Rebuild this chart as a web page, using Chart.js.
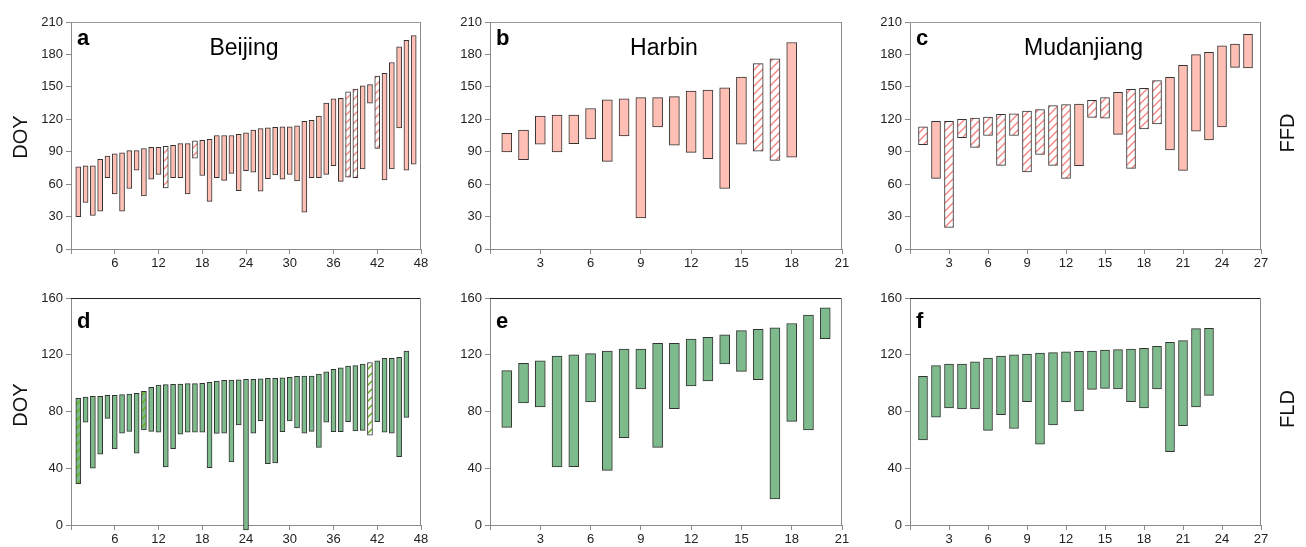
<!DOCTYPE html>
<html>
<head>
<meta charset="utf-8">
<script src="https://cdn.jsdelivr.net/npm/chart.js@4.4.0/dist/chart.umd.min.js"></script>
<style>
html, body { margin: 0; padding: 0; background: #fff; }
body { width: 1306px; height: 547px; position: relative; overflow: hidden; font-family: "Liberation Sans", Arial, sans-serif; }
canvas { position: absolute; }
.side { position: absolute; width: 70px; height: 24px; line-height: 24px; text-align: center; font-size: 20px; color: #111; transform: rotate(-90deg); white-space: nowrap; }
</style>
</head>
<body>
<canvas id="pa"></canvas>
<canvas id="pb"></canvas>
<canvas id="pc"></canvas>
<canvas id="pd"></canvas>
<canvas id="pe"></canvas>
<canvas id="pf"></canvas>
<div class="side" style="left:-15px; top:125px;">DOY</div>
<div class="side" style="left:-15px; top:393px;">DOY</div>
<div class="side" style="left:1252px; top:121px;">FFD</div>
<div class="side" style="left:1252px; top:397px;">FLD</div>
<script>
// FFD (top row) ranges, one bar per category 1..n
const beijingFfdHigh = [76, 77, 77, 83, 86, 88, 89, 91, 91, 93, 94, 94, 95, 96, 97.5, 97.5, 100, 100.5, 101.5, 105,
    105, 105, 106, 107.5, 110, 111.5, 112, 112.5, 113, 113, 114, 118, 119, 123, 135, 139, 139.5, 145.5, 148, 151,
    152, 160, 162.5, 172.5, 187, 193, 197.5];
const beijingFfdLow = [30, 43, 31, 35, 66, 51, 35, 56, 73, 49, 64.5, 69, 56.5, 66, 66, 51, 84, 68, 44, 66,
    63.5, 70, 54, 72.5, 71, 53.5, 65, 68.5, 64.5, 69, 63, 34, 66, 66, 69, 77, 62.5, 66.5, 66, 74,
    135, 93, 64, 74, 112, 73, 78.5];
const beijingFfdHatch = [13, 17, 38, 39, 42];

const harbinFfdHigh = [107, 110, 123, 124, 124, 130, 138, 139, 140, 140, 141, 146, 147, 149, 159, 171.5, 176, 191];
const harbinFfdLow = [89.7, 82.6, 97, 89.7, 97.4, 101.8, 81, 104.5, 28.7, 113, 96, 89.4, 83.6, 56, 97, 90.4, 82, 85];
const harbinFfdHatch = [16, 17];

const mudanFfdHigh = [113, 118, 118, 120, 121, 122, 124.6, 125, 127.7, 129, 132.6, 133.5, 134, 137.5, 140, 145,
    147.7, 148.6, 155.7, 158.8, 170, 179.8, 182, 188, 189.6, 198.6];
const mudanFfdLow = [96.5, 65.4, 20, 103, 94, 105, 77.4, 105, 71.2, 87.6, 77.4, 65.4, 77, 121.8, 121, 106,
    74.6, 111, 115.6, 91.6, 72.8, 108.9, 101, 113, 168, 167.5];
const mudanFfdHatch = [1, 3, 4, 5, 6, 7, 8, 9, 10, 11, 12, 14, 15, 17, 18, 19];

// FLD (bottom row)
const beijingFldHigh = [89.3, 90.2, 90.7, 90.7, 91.4, 91.4, 91.9, 92.3, 92.8, 94.2, 97, 98.7, 98.9, 99.1, 99.4, 99.6,
    99.6, 99.8, 100.5, 101.5, 102, 102.2, 102.4, 102.7, 102.7, 103.1, 103.4, 103.4, 103.8, 104.1, 104.8, 105, 105,
    106.4, 108, 109.7, 110.7, 112, 112.3, 113.5, 114.4, 115.8, 117.5, 117.5, 118.2, 122.6];
const beijingFldLow = [29.1, 72.4, 40, 50, 75.2, 53.6, 64.8, 66, 50.7, 67, 66, 65.5, 40.9, 53.8, 64.1, 65.5,
    65.5, 65.5, 40.4, 64.6, 64.8, 44.4, 70.5, -3.5, 64.8, 73.5, 43.2, 43.7, 65.8, 73.3, 68.4, 64.8, 66,
    54.7, 72.4, 65.8, 65.8, 72.8, 66.3, 66.7, 63.4, 72.8, 65.5, 64.8, 48.2, 75.9];
const beijingFldHatch = [41];
const beijingFldHatchFilled = [1, 10];

const harbinFldHigh = [108.8, 114, 115.8, 119, 120, 120.8, 122.6, 124, 124, 128, 128, 131, 132.3, 134, 137, 138,
    138.9, 142, 148, 153];
const harbinFldLow = [68.8, 86, 83.2, 40.9, 41.1, 86.7, 38.5, 61.6, 95.9, 54.7, 82, 98, 101.5, 113.5, 108.3, 102.4,
    18.3, 73, 67, 131.3];

const mudanFldHigh = [104.8, 112.3, 113.5, 113.5, 115, 117.7, 119, 120, 120.5, 121.2, 121.5, 122, 122.4, 122.6,
    123.3, 123.6, 124, 124.5, 126, 128.8, 130, 138.4, 138.6];
const mudanFldLow = [60, 76, 82.5, 81.8, 81.8, 66.7, 77.8, 68, 87, 57, 70.5, 86.7, 80.4, 95.6, 96.3, 95.9, 87,
    82.5, 95.9, 51.7, 70, 83.2, 91.4];

const ffdTicks = { max: 210, step: 30 };
const fldTicks = { max: 160, step: 40 };

const pink = "#ffbfb4";
const green = "#7dba8c";
const font = "'Liberation Sans', Arial, sans-serif";

// diagonal hatch tile
function makeHatch(lineColor, bgColor) {
    const c = document.createElement("canvas");
    c.width = 8;
    c.height = 8;
    const g = c.getContext("2d");
    g.fillStyle = bgColor;
    g.fillRect(0, 0, 8, 8);
    g.strokeStyle = lineColor;
    g.lineWidth = 1.5;
    g.beginPath();
    g.moveTo(-1, 9); g.lineTo(9, -1);
    g.moveTo(-1, 1); g.lineTo(1, -1);
    g.moveTo(7, 9); g.lineTo(9, 7);
    g.stroke();
    return g.createPattern(c, "repeat");
}

const pinkHatch = makeHatch("#f08a86", "#ffffff");
const greenHatch = makeHatch("#6aac1e", "#ffffff");
const greenHatchFilled = makeHatch("#6aac1e", green);

// top & right frame lines, panel letter and site name
const framePlugin = {
    id: "frame",
    afterDatasetsDraw(chart, args, opts) {
        const { ctx, chartArea: a } = chart;
        ctx.save();
        ctx.lineWidth = 1;
        ctx.strokeStyle = opts.topColor;
        ctx.beginPath();
        ctx.moveTo(a.left, a.top + 0.5);
        ctx.lineTo(a.right, a.top + 0.5);
        ctx.stroke();
        ctx.strokeStyle = "#8a8a8a";
        ctx.beginPath();
        ctx.moveTo(a.right - 0.5, a.top);
        ctx.lineTo(a.right - 0.5, a.bottom);
        ctx.stroke();
        ctx.fillStyle = "#000";
        ctx.textBaseline = "alphabetic";
        ctx.font = "bold 22px " + font;
        ctx.fillText(opts.letter, a.left + 6, a.top + opts.letterY);
        if (opts.title) {
            ctx.font = "23px " + font;
            ctx.textAlign = "center";
            ctx.fillText(opts.title, (a.left + a.right) / 2 - 2, a.top + 33);
        }
        ctx.restore();
    },
};

function createPanel(id, cfg) {
    const canvas = document.getElementById(id);
    const plotH = 227;
    canvas.width = cfg.w + 74;
    canvas.height = plotH + 12 + 26;
    canvas.style.left = cfg.left - 60 + "px";
    canvas.style.top = cfg.top - 12 + "px";

    const colors = cfg.low.map((v, i) => {
        const n = i + 1;
        if ((cfg.hatchFilled || []).includes(n)) return cfg.hatchFilled && greenHatchFilled;
        if ((cfg.hatch || []).includes(n)) return cfg.hatchPattern;
        return cfg.fill;
    });

    new Chart(canvas, {
        type: "bar",
        data: {
            datasets: [
                {
                    data: cfg.low.map((v, i) => ({ x: i + 1, y: [v, cfg.high[i]] })),
                    backgroundColor: colors,
                    borderColor: "#333",
                    borderWidth: 1,
                    borderSkipped: false,
                    barThickness: cfg.bar,
                    clip: false,
                },
            ],
        },
        options: {
            responsive: false,
            animation: false,
            events: [],
            layout: { padding: { left: 0, top: 12, right: 14, bottom: 0 } },
            plugins: {
                legend: { display: false },
                tooltip: { enabled: false },
                frame: { letter: cfg.letter, title: cfg.title, letterY: cfg.letterY, topColor: cfg.topColor },
            },
            scales: {
                x: {
                    type: "linear",
                    min: 0,
                    max: cfg.xMax,
                    offset: false,
                    afterFit: (s) => { s.height = 26; },
                    border: { display: true, color: "#8a8a8a", width: 1 },
                    grid: { display: true, drawOnChartArea: false, drawTicks: true, tickLength: 5, color: "#8a8a8a", offset: false },
                    ticks: {
                        stepSize: cfg.xStep,
                        padding: 2,
                        color: "#222",
                        font: { size: 13, family: font },
                        maxRotation: 0,
                        callback: (v) => (v === 0 ? "" : v),
                    },
                },
                y: {
                    min: 0,
                    max: cfg.yTicks.max,
                    afterFit: (s) => { s.width = 60; },
                    border: { display: true, color: "#8a8a8a", width: 1 },
                    grid: { display: true, drawOnChartArea: false, drawTicks: true, tickLength: 5, color: "#8a8a8a" },
                    ticks: {
                        stepSize: cfg.yTicks.step,
                        padding: 3,
                        color: "#222",
                        font: { size: 13, family: font },
                    },
                },
            },
        },
        plugins: [framePlugin],
    });
}

const cols = [
    { left: 71, w: 350 },
    { left: 490, w: 352 },
    { left: 910, w: 351 },
];

createPanel("pa", { ...cols[0], top: 22, low: beijingFfdLow, high: beijingFfdHigh, hatch: beijingFfdHatch,
    hatchPattern: pinkHatch, fill: pink, bar: 5, xMax: 48, xStep: 6, yTicks: ffdTicks,
    letter: "a", title: "Beijing", letterY: 23, topColor: "#999" });
createPanel("pb", { ...cols[1], top: 22, low: harbinFfdLow, high: harbinFfdHigh, hatch: harbinFfdHatch,
    hatchPattern: pinkHatch, fill: pink, bar: 10, xMax: 21, xStep: 3, yTicks: ffdTicks,
    letter: "b", title: "Harbin", letterY: 23, topColor: "#999" });
createPanel("pc", { ...cols[2], top: 22, low: mudanFfdLow, high: mudanFfdHigh, hatch: mudanFfdHatch,
    hatchPattern: pinkHatch, fill: pink, bar: 9, xMax: 27, xStep: 3, yTicks: ffdTicks,
    letter: "c", title: "Mudanjiang", letterY: 23, topColor: "#999" });
createPanel("pd", { ...cols[0], top: 298, low: beijingFldLow, high: beijingFldHigh, hatch: beijingFldHatch,
    hatchFilled: beijingFldHatchFilled, hatchPattern: greenHatch, fill: green, bar: 5, xMax: 48, xStep: 6,
    yTicks: fldTicks, letter: "d", letterY: 30, topColor: "#222" });
createPanel("pe", { ...cols[1], top: 298, low: harbinFldLow, high: harbinFldHigh, fill: green, bar: 10,
    xMax: 21, xStep: 3, yTicks: fldTicks, letter: "e", letterY: 30, topColor: "#222" });
createPanel("pf", { ...cols[2], top: 298, low: mudanFldLow, high: mudanFldHigh, fill: green, bar: 9,
    xMax: 27, xStep: 3, yTicks: fldTicks, letter: "f", letterY: 30, topColor: "#222" });
</script>
</body>
</html>
